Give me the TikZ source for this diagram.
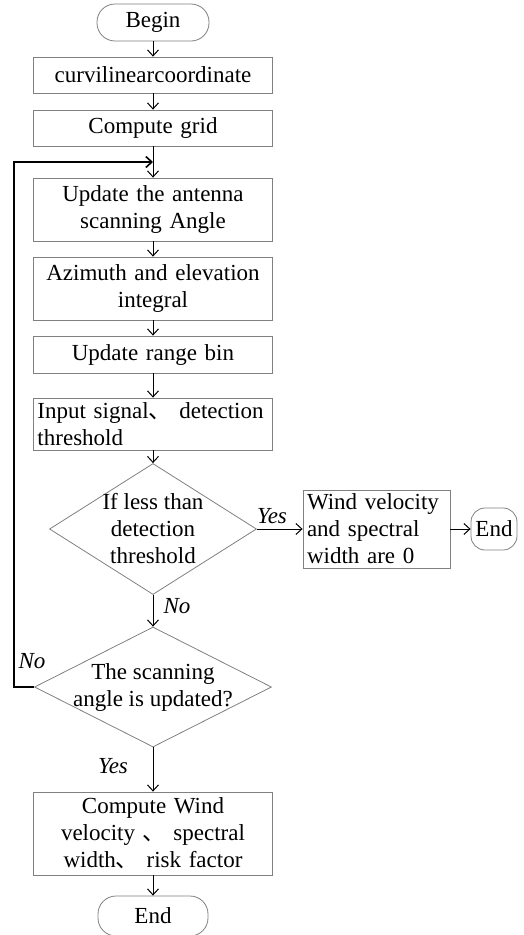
\documentclass[tikz,border=0pt]{standalone}
\usepackage{fontspec}
\setmainfont{Liberation Serif}
\newfontfamily\cjk{Noto Sans CJK SC}
\usetikzlibrary{shapes.geometric,arrows.meta}

\begin{document}
\begin{tikzpicture}[x=1pt, y=-1pt, font=\fontsize{23}{27}\selectfont,
  box/.style={shape=rectangle, draw=gray, line width=0.8pt, text width=231pt, align=center, inner sep=4pt},
  terminal/.style={shape=rectangle, rounded corners=18pt, draw=gray, line width=0.8pt, inner sep=0pt},
  decision/.style={shape=diamond, draw=gray, line width=0.8pt, inner sep=0pt},
  flow/.style={-{Straight Barb[length=6pt,width=11pt]}, line width=1pt, draw=black},
  answer/.style={font=\fontsize{23}{27}\selectfont\itshape}]
\useasboundingbox (0,0) rectangle (524,935);
\node[terminal, minimum width=112pt, minimum height=37pt] (begin) at (153,22.5) {Begin};
\node[box, minimum height=36pt] (curv) at (153,75) {curvilinearcoordinate};
\node[box, minimum height=36pt] (grid) at (153,128) {Compute grid};
\coordinate (join) at (153,162);
\node[box, minimum height=63pt] (antenna) at (153,209.5) {Update the antenna\\scanning Angle};
\node[box, minimum height=63pt] (integral) at (153,288.5) {Azimuth and elevation\\integral};
\node[box, minimum height=37pt] (range) at (153,354.5) {Update range bin};
\node[box, align=left, minimum height=52pt] (input) at (153,424) {Input signal{\cjk 、} detection\\threshold};
\node[decision, minimum width=207pt, minimum height=131pt, label={[align=center]center:If less than\\detection\\threshold}] (less) at (153,529) {};
\node[box, text width=139pt, align=left, minimum height=73pt] (zero) at (376.5,529) {Wind velocity\\and spectral\\width are 0};
\node[terminal, rounded corners=14pt, minimum width=46pt, minimum height=42pt] (stop) at (494,529) {End};
\node[decision, minimum width=237pt, minimum height=120pt, label={[align=center]center:The scanning\\angle is updated?}] (updated) at (153,687) {};
\coordinate (back) at (14,687);
\node[box, minimum height=83pt] (result) at (153,833.5) {Compute Wind\\velocity {\cjk 、} spectral\\width{\cjk 、} risk factor};
\node[terminal, minimum width=110pt, minimum height=40pt] (end) at (153,916) {End};
\node[answer] (yes1) at (272,516) {Yes};
\node[answer] (no1) at (177,606) {No};
\node[answer] (no2) at (32,661) {No};
\node[answer] (yes2) at (113,766) {Yes};
\path [flow] (begin) edge (curv);
\path [flow] (curv) edge (grid);
\path [flow] (grid) edge (antenna);
\path [flow] (antenna) edge (integral);
\path [flow] (integral) edge (range);
\path [flow] (range) edge (input);
\path [flow] (input) edge (less);
\path [flow] (less) edge (zero);
\path [flow] (zero) edge (stop);
\path [flow] (less) edge (updated);
\path [flow] (updated) edge (result);
\path [flow] (result) edge (end);
\draw [flow, line width=1.6pt] (updated.west) -- (back) |- (join);
\end{tikzpicture}
\end{document}
